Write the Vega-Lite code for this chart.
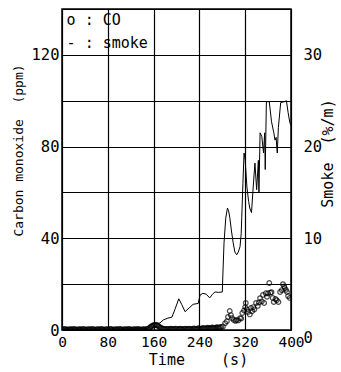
{
  "$schema": "https://vega.github.io/schema/vega-lite/v6.json",
  "width": 229,
  "height": 321,
  "autosize": {"type": "none"},
  "padding": {"left": 62, "top": 9, "right": 50, "bottom": 42},
  "background": "white",
  "config": {
    "view": {"stroke": "black", "strokeWidth": 1.5},
    "font": "DejaVu Sans Mono",
    "axis": {"labelFont": "DejaVu Sans Mono", "titleFont": "DejaVu Sans Mono", "labelColor": "black", "titleColor": "black", "labelFontWeight": "normal", "titleFontWeight": "normal"}
  },
  "datasets": {
    "co": [
      {"t": 0, "co": 0.3}, {"t": 2, "co": 0.1}, {"t": 4, "co": 0.5}, {"t": 6, "co": 0.3}, {"t": 8, "co": 0.2}, {"t": 10, "co": 0.0}, {"t": 12, "co": 0.4}, {"t": 14, "co": 0.2}, {"t": 16, "co": 0.3},
      {"t": 18, "co": 0.1}, {"t": 20, "co": 0.5}, {"t": 22, "co": 0.3}, {"t": 24, "co": 0.2}, {"t": 26, "co": 0.0}, {"t": 28, "co": 0.4}, {"t": 30, "co": 0.2}, {"t": 32, "co": 0.3}, {"t": 34, "co": 0.1}, {"t": 36, "co": 0.5},
      {"t": 38, "co": 0.3}, {"t": 40, "co": 0.2}, {"t": 42, "co": 0.0}, {"t": 44, "co": 0.4}, {"t": 46, "co": 0.2}, {"t": 48, "co": 0.3}, {"t": 50, "co": 0.1}, {"t": 52, "co": 0.5}, {"t": 54, "co": 0.3}, {"t": 56, "co": 0.2},
      {"t": 58, "co": 0.0}, {"t": 60, "co": 0.4}, {"t": 62, "co": 0.2}, {"t": 64, "co": 0.3}, {"t": 66, "co": 0.1}, {"t": 68, "co": 0.5}, {"t": 70, "co": 0.3}, {"t": 72, "co": 0.2}, {"t": 74, "co": 0.0}, {"t": 76, "co": 0.4},
      {"t": 78, "co": 0.2}, {"t": 80, "co": 0.3}, {"t": 82, "co": 0.1}, {"t": 84, "co": 0.5}, {"t": 86, "co": 0.3}, {"t": 88, "co": 0.2}, {"t": 90, "co": 0.0}, {"t": 92, "co": 0.4}, {"t": 94, "co": 0.2}, {"t": 96, "co": 0.3},
      {"t": 98, "co": 0.1}, {"t": 100, "co": 0.5}, {"t": 102, "co": 0.3}, {"t": 104, "co": 0.2}, {"t": 106, "co": 0.0}, {"t": 108, "co": 0.4}, {"t": 110, "co": 0.2}, {"t": 112, "co": 0.3}, {"t": 114, "co": 0.1}, {"t": 116, "co": 0.5},
      {"t": 118, "co": 0.3}, {"t": 120, "co": 0.2}, {"t": 122, "co": 0.0}, {"t": 124, "co": 0.4}, {"t": 126, "co": 0.2}, {"t": 128, "co": 0.3}, {"t": 130, "co": 0.1}, {"t": 132, "co": 0.5}, {"t": 134, "co": 0.3}, {"t": 136, "co": 0.2},
      {"t": 138, "co": 0.0}, {"t": 140, "co": 0.4}, {"t": 142, "co": 0.2}, {"t": 144, "co": 0.3}, {"t": 146, "co": 0.1}, {"t": 148, "co": 0.5}, {"t": 150, "co": 0.4}, {"t": 152, "co": 0.8}, {"t": 154, "co": 1.2}, {"t": 156, "co": 1.6},
      {"t": 158, "co": 1.9}, {"t": 160, "co": 2.1}, {"t": 162, "co": 2.3}, {"t": 164, "co": 2.2}, {"t": 166, "co": 2.0}, {"t": 168, "co": 1.8}, {"t": 170, "co": 1.4}, {"t": 172, "co": 1.0}, {"t": 174, "co": 0.8}, {"t": 176, "co": 0.6},
      {"t": 178, "co": 0.5}, {"t": 180, "co": 0.4}, {"t": 182, "co": 0.3}, {"t": 184, "co": 0.5}, {"t": 186, "co": 0.4}, {"t": 188, "co": 0.3}, {"t": 190, "co": 0.6}, {"t": 192, "co": 0.5}, {"t": 194, "co": 0.3}, {"t": 196, "co": 0.4},
      {"t": 198, "co": 0.6}, {"t": 200, "co": 0.5}, {"t": 202, "co": 0.4}, {"t": 204, "co": 0.3}, {"t": 206, "co": 0.6}, {"t": 208, "co": 0.5}, {"t": 210, "co": 0.3}, {"t": 212, "co": 0.4}, {"t": 214, "co": 0.5}, {"t": 216, "co": 0.6},
      {"t": 218, "co": 0.3}, {"t": 220, "co": 0.4}, {"t": 222, "co": 0.6}, {"t": 224, "co": 0.5}, {"t": 226, "co": 0.3}, {"t": 228, "co": 0.4}, {"t": 230, "co": 0.7}, {"t": 232, "co": 0.6}, {"t": 234, "co": 0.4}, {"t": 236, "co": 0.5},
      {"t": 238, "co": 0.8}, {"t": 240, "co": 0.7}, {"t": 242, "co": 0.5}, {"t": 244, "co": 0.6}, {"t": 246, "co": 0.9}, {"t": 248, "co": 0.8}, {"t": 250, "co": 0.6}, {"t": 252, "co": 0.7}, {"t": 254, "co": 1.0}, {"t": 256, "co": 0.9},
      {"t": 258, "co": 0.7}, {"t": 260, "co": 0.8}, {"t": 262, "co": 1.1}, {"t": 264, "co": 1.0}, {"t": 266, "co": 0.8}, {"t": 268, "co": 0.9}, {"t": 270, "co": 1.2}, {"t": 272, "co": 1.1}, {"t": 274, "co": 1.0}, {"t": 276, "co": 1.2},
      {"t": 278, "co": 1.3}, {"t": 281, "co": 1.5}, {"t": 285, "co": 3.0}, {"t": 288, "co": 3.8}, {"t": 290, "co": 5.7}, {"t": 293, "co": 8.3},
      {"t": 295, "co": 6.5}, {"t": 297, "co": 5.2}, {"t": 300, "co": 4.4}, {"t": 303, "co": 4.0}, {"t": 305, "co": 4.4},
      {"t": 308, "co": 4.2}, {"t": 311, "co": 5.2}, {"t": 313, "co": 5.0}, {"t": 315, "co": 7.4}, {"t": 318, "co": 8.5},
      {"t": 320, "co": 10.0}, {"t": 321, "co": 11.8}, {"t": 323, "co": 9.0}, {"t": 325, "co": 7.9}, {"t": 328, "co": 6.8},
      {"t": 330, "co": 9.6}, {"t": 332, "co": 8.2}, {"t": 334, "co": 10.0}, {"t": 336, "co": 9.0}, {"t": 339, "co": 11.8},
      {"t": 342, "co": 10.5}, {"t": 344, "co": 12.0}, {"t": 346, "co": 13.9}, {"t": 349, "co": 12.5}, {"t": 351, "co": 15.3},
      {"t": 353, "co": 11.8}, {"t": 356, "co": 16.0}, {"t": 358, "co": 14.5}, {"t": 360, "co": 16.0}, {"t": 362, "co": 20.5},
      {"t": 364, "co": 16.3}, {"t": 366, "co": 16.5}, {"t": 368, "co": 14.0}, {"t": 370, "co": 12.2}, {"t": 373, "co": 13.5},
      {"t": 375, "co": 13.0}, {"t": 378, "co": 12.2}, {"t": 381, "co": 16.6}, {"t": 384, "co": 17.4}, {"t": 386, "co": 20.0},
      {"t": 388, "co": 19.0}, {"t": 389, "co": 18.3}, {"t": 391, "co": 17.5}, {"t": 393, "co": 16.6}, {"t": 395, "co": 14.8},
      {"t": 398, "co": 14.0}
    ],
    "smoke": [
      {"t": 0, "s": 0.1}, {"t": 40, "s": 0.1}, {"t": 80, "s": 0.1}, {"t": 120, "s": 0.1}, {"t": 150, "s": 0.15},
      {"t": 154, "s": 0.55}, {"t": 160, "s": 0.7}, {"t": 171, "s": 0.76}, {"t": 177, "s": 1.1}, {"t": 185, "s": 1.3},
      {"t": 192, "s": 1.4}, {"t": 197, "s": 2.2}, {"t": 204, "s": 3.4}, {"t": 209, "s": 2.8}, {"t": 215, "s": 2.0},
      {"t": 222, "s": 2.4}, {"t": 229, "s": 2.8}, {"t": 238, "s": 2.9}, {"t": 241, "s": 3.8}, {"t": 246, "s": 4.0},
      {"t": 252, "s": 3.9}, {"t": 258, "s": 3.5}, {"t": 263, "s": 3.9}, {"t": 267, "s": 4.15}, {"t": 273, "s": 4.1},
      {"t": 280, "s": 4.15}, {"t": 281, "s": 6.0}, {"t": 283, "s": 9.5}, {"t": 286, "s": 12.2}, {"t": 289, "s": 13.3},
      {"t": 291, "s": 13.0}, {"t": 293, "s": 12.3}, {"t": 296, "s": 10.8}, {"t": 299, "s": 9.5}, {"t": 302, "s": 8.5},
      {"t": 305, "s": 8.2}, {"t": 308, "s": 8.5}, {"t": 311, "s": 9.1}, {"t": 313, "s": 10.5}, {"t": 314, "s": 12.3},
      {"t": 316, "s": 16.0}, {"t": 318, "s": 19.3}, {"t": 320, "s": 18.5}, {"t": 323, "s": 15.6}, {"t": 326, "s": 14.0},
      {"t": 328, "s": 13.3}, {"t": 331, "s": 12.8}, {"t": 334, "s": 15.6}, {"t": 337, "s": 18.2}, {"t": 340, "s": 15.3},
      {"t": 343, "s": 18.5}, {"t": 344, "s": 15.0}, {"t": 346, "s": 21.5}, {"t": 349, "s": 21.1}, {"t": 352, "s": 19.3},
      {"t": 354, "s": 21.5}, {"t": 355, "s": 17.5}, {"t": 357, "s": 24.9}, {"t": 362, "s": 24.9}, {"t": 366, "s": 22.7},
      {"t": 370, "s": 21.5}, {"t": 372, "s": 20.7}, {"t": 374, "s": 21.0}, {"t": 376, "s": 19.3}, {"t": 378, "s": 22.1},
      {"t": 382, "s": 24.8}, {"t": 389, "s": 24.9}, {"t": 392, "s": 25.0}, {"t": 395, "s": 23.7}, {"t": 398, "s": 22.6},
      {"t": 400, "s": 22.3}
    ],
    "legend": [
      {"t": 8, "ppm": 135, "label": "o : CO"},
      {"t": 8, "ppm": 125, "label": "- : smoke"}
    ]
  },
  "layer": [
    {
      "data": {"name": "co"},
      "mark": {"type": "point", "shape": "circle", "filled": false, "color": "black", "size": 22, "strokeWidth": 1.2, "clip": true},
      "encoding": {
        "x": {
          "field": "t", "type": "quantitative",
          "scale": {"domain": [0, 400], "nice": false, "zero": false},
          "axis": {
            "values": [0, 80, 160, 240, 320, 400],
            "title": "Time\u00a0\u00a0\u00a0\u00a0(s)",
            "titleFontSize": 15, "titlePadding": 4, "titleX": 136, "titleAnchor": "middle", "titleColor": "black",
            "labelFontSize": 14.5, "labelPadding": 5, "ticks": false, "domain": false, "labelColor": "black",
            "grid": true, "gridColor": "black", "gridWidth": 1.2, "gridOpacity": 1,
            "labelFlush": false
          }
        },
        "y": {
          "field": "co", "type": "quantitative",
          "scale": {"domain": [0, 140], "nice": false},
          "axis": {
            "orient": "left",
            "values": [0, 20, 40, 60, 80, 100, 120, 140],
            "labelExpr": "datum.value % 40 == 0 && datum.value < 140 ? datum.label : ''",
            "title": "Carbon monoxide\u00a0\u00a0(ppm)",
            "titleFontSize": 13, "titlePadding": 6, "titleY": 141, "titleColor": "black",
            "labelFontSize": 15.5, "labelPadding": 3, "ticks": false, "domain": false, "labelColor": "black",
            "grid": true, "gridColor": "black", "gridWidth": 1.2, "gridOpacity": 1,
            "labelFlush": false
          }
        }
      }
    },
    {
      "data": {"name": "legend"},
      "mark": {"type": "text", "align": "left", "baseline": "middle", "fontSize": 15, "font": "DejaVu Sans Mono", "color": "black"},
      "encoding": {
        "x": {"field": "t", "type": "quantitative", "scale": {"domain": [0, 400], "nice": false, "zero": false}},
        "y": {"field": "ppm", "type": "quantitative", "scale": {"domain": [0, 140], "nice": false}, "axis": null},
        "text": {"field": "label"}
      }
    },
    {
      "data": {"name": "smoke"},
      "mark": {"type": "line", "color": "black", "strokeWidth": 1, "interpolate": "linear", "clip": true},
      "encoding": {
        "x": {"field": "t", "type": "quantitative", "scale": {"domain": [0, 400], "nice": false, "zero": false}},
        "y": {
          "field": "s", "type": "quantitative",
          "scale": {"domain": [0, 35], "nice": false},
          "axis": {
            "orient": "right",
            "values": [0, 10, 20, 30],
            "title": "Smoke\u00a0\u00a0(%/m)",
            "titleAngle": 270, "titleFontSize": 15, "titlePadding": 14, "titleY": 144, "titleColor": "black",
            "labelFontSize": 15.5, "labelPadding": 12, "ticks": false, "domain": false, "grid": false, "labelColor": "black",
            "labelBaseline": {"condition": {"test": "datum.value == 0", "value": "top"}, "value": "middle"},
            "labelFlush": false
          }
        }
      }
    }
  ],
  "resolve": {"scale": {"y": "independent", "x": "shared"}, "axis": {"y": "independent"}}
}
